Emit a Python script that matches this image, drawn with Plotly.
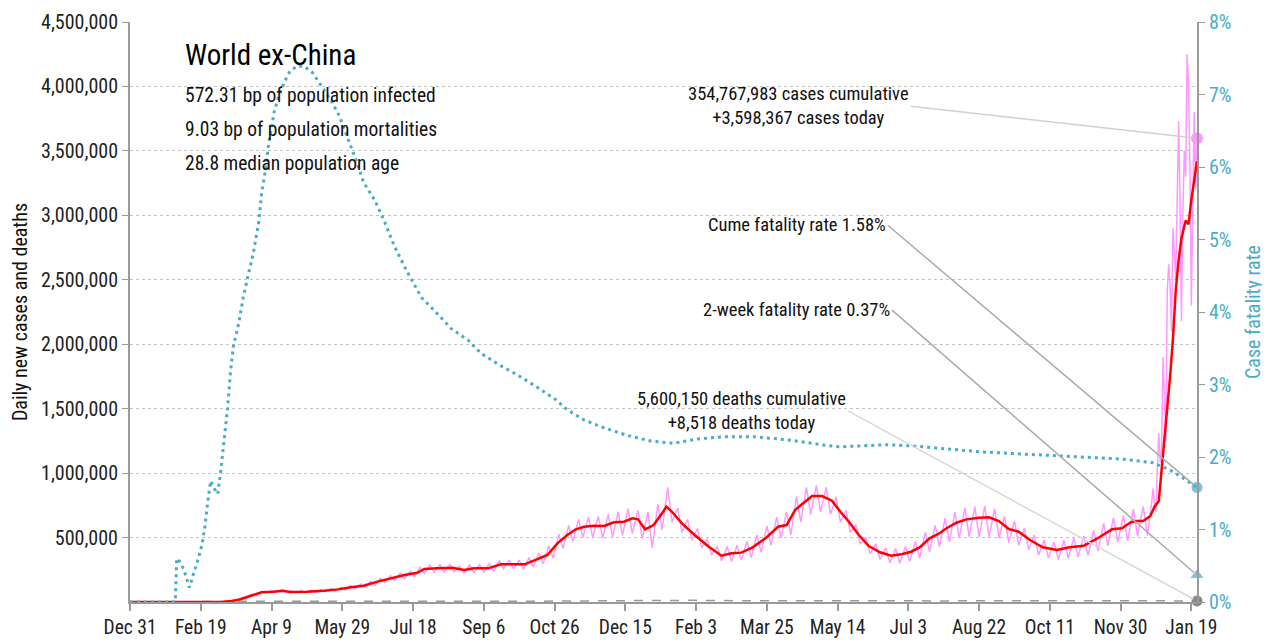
import pandas as pd
import plotly.graph_objects as go

START = pd.Timestamp("2019-12-31")
LAST_DAY = 754

# x-axis tick labels (every 50 days from Dec 31, 2019)
tick_labels = ["Dec 31", "Feb 19", "Apr 9", "May 29", "Jul 18", "Sep 6", "Oct 26", "Dec 15",
               "Feb 3", "Mar 25", "May 14", "Jul 3", "Aug 22", "Oct 11", "Nov 30", "Jan 19"]
tick_step_days = 50

# 7-day average of daily new cases (thousands), day offsets from Dec 31, 2019
avg_days = [0, 60, 66, 72, 78, 87, 93, 101, 108, 113, 125, 137, 147, 156, 165, 175, 184, 194, 203, 208,
            217, 228, 236, 243, 253, 262, 279, 288, 295, 302, 309, 315, 321, 328, 335, 342, 349, 355, 359, 364,
            370, 376, 379, 383, 390, 399, 409, 418, 425, 432, 440, 449, 458, 464, 470, 475, 482, 489, 496, 502,
            508, 515, 522, 530, 538, 546, 552, 558, 565, 572, 577, 584, 591, 600, 607, 614, 621, 628, 636, 645,
            655, 664, 674, 683, 694, 701, 707, 711, 716, 721, 724, 727, 729, 731, 733, 735, 737, 739, 741, 743,
            746, 748, 750, 752, 754]
avg_k = [0, 0.5, 1.5, 8, 21, 54, 75, 80, 88, 78, 80, 88, 98, 114, 126, 158, 184, 209, 227, 256,
         261, 266, 248, 261, 261, 292, 292, 331, 365, 455, 520, 564, 584, 592, 590, 618, 623, 649, 641, 564,
         597, 688, 740, 700, 610, 520, 429, 359, 378, 383, 424, 494, 584, 597, 714, 760, 822, 822, 786, 700,
         623, 520, 434, 386, 359, 372, 390, 424, 494, 533, 572, 615, 641, 654, 657, 628, 566, 545, 481, 424,
         403, 424, 437, 489, 564, 572, 618, 628, 628, 667, 739, 784, 1020, 1310, 1510, 1750, 2040, 2420, 2650, 2820,
         2960, 2930, 3120, 3260, 3420]

# daily new cases (thousands): weekly high (Thu) and low (Sun) readings, weeks 0..102
pink_hi_k = [0, 0, 0, 0, 0, 0, 0.3, 0.6, 1.2, 2.5,
             12, 30, 60, 82, 88, 95, 85, 88, 92, 96,
             104, 114, 126, 140, 160, 185, 205, 225, 240, 270,
             285, 290, 292, 278, 285, 290, 298, 322, 325, 325,
             345, 378, 435, 525, 595, 640, 660, 665, 680, 700,
             725, 710, 700, 760, 890, 730, 640, 570, 490, 430,
             430, 440, 470, 520, 590, 660, 700, 820, 890, 905,
             890, 815, 710, 600, 500, 450, 420, 415, 430, 470,
             540, 595, 650, 700, 730, 740, 745, 725, 665, 630,
             575, 520, 480, 465, 480, 495, 510, 555, 610, 655,
             670, 720, 740]
pink_lo_k = [0, 0, 0, 0, 0, 0, 0.1, 0.4, 0.8, 1.8,
             8, 22, 48, 70, 74, 78, 72, 73, 76, 80,
             85, 93, 103, 112, 128, 150, 165, 180, 195, 220,
             230, 232, 235, 222, 228, 230, 235, 258, 258, 255,
             272, 298, 340, 415, 470, 500, 500, 495, 505, 515,
             530, 490, 420, 560, 620, 540, 480, 420, 365, 320,
             315, 325, 345, 385, 440, 495, 520, 620, 680, 700,
             680, 620, 540, 450, 375, 330, 305, 300, 315, 340,
             390, 430, 465, 495, 505, 505, 505, 495, 460, 440,
             405, 365, 340, 330, 340, 350, 360, 395, 435, 465,
             475, 510, 515]
# daily new cases during the Omicron surge (thousands), from day 722
surge_start_day = 722
surge_k = [780, 880, 740, 700, 1050, 1310, 1080, 1200, 1900, 1500, 1250, 2420, 2620, 2450, 2100,
           2900, 2700, 2500, 3120, 3730, 3100, 2180, 3000, 3500, 3300, 4250, 4020, 3400, 2300,
           3000, 3800, 3200, 3598.367]

# cumulative case fatality rate (%)
cfr_days = [0, 32, 33, 35, 38, 42, 45, 47, 51, 53, 55, 57, 60, 62, 64, 67, 69, 71, 73, 77,
            80, 84, 87, 91, 93, 96, 98, 102, 105, 109, 113, 118, 123, 129, 135, 142, 148, 154, 161, 165,
            173, 180, 187, 196, 206, 218, 227, 239, 248, 261, 274, 287, 301, 309, 321, 334, 351, 368, 384, 401,
            421, 441, 468, 488, 501, 535, 555, 602, 635, 669, 702, 723, 735, 745, 754]
cfr_pct = [0, 0, 0.60, 0.56, 0.45, 0.20, 0.40, 0.51, 0.80, 1.05, 1.39, 1.67, 1.55, 1.49, 1.79, 2.29, 2.68, 3.17, 3.52, 3.86,
           4.20, 4.55, 4.80, 5.24, 5.64, 5.99, 6.33, 6.77, 6.97, 7.17, 7.32, 7.39, 7.39, 7.30, 7.12, 6.92, 6.70, 6.39, 6.03, 5.79,
           5.54, 5.24, 4.90, 4.55, 4.20, 3.96, 3.77, 3.61, 3.43, 3.27, 3.13, 2.97, 2.79, 2.65, 2.51, 2.41, 2.30, 2.22, 2.19, 2.25,
           2.28, 2.28, 2.23, 2.17, 2.14, 2.17, 2.15, 2.07, 2.04, 2.00, 1.97, 1.92, 1.82, 1.70, 1.58]

# daily deaths (thousands)
death_days = [0, 60, 75, 90, 105, 130, 160, 190, 220, 250, 280, 310, 340, 370, 400, 430, 460, 490, 520, 550,
              580, 610, 640, 670, 700, 730, 754]
death_k = [0, 0.2, 1.5, 5.5, 6.5, 5, 4.5, 5, 6, 5.5, 5.5, 7, 10, 12, 13, 10, 9, 12, 11, 8.5,
           8.5, 10, 8.5, 7, 7, 6.5, 8.518]

# latest values
cases_today = 3598367
cases_cum = 354767983
deaths_today = 8518
deaths_cum = 5600150
cume_cfr = 1.58
twoweek_cfr = 0.37
stats_lines = ["572.31 bp of population infected", "9.03 bp of population mortalities", "28.8 median population age"]

FONT = "Liberation Sans Narrow, Arial Narrow, Roboto Condensed, DejaVu Sans Condensed, sans-serif"
PINK = "#ff99ff"
RED = "#ff0000"
TEAL = "#4bacc6"
AXIS = "#9a9a9a"


def d(day):
    return START + pd.Timedelta(days=day)


# build daily series
pink_pts = []
for w, (hi, lo) in enumerate(zip(pink_hi_k, pink_lo_k)):
    pink_pts.append((7 * w + 2, hi))
    pink_pts.append((7 * w + 5, lo))
for i, v in enumerate(surge_k):
    pink_pts.append((surge_start_day + i, v))
pink_pts.sort()
pink_x = [d(p[0]) for p in pink_pts]
pink_y = [p[1] * 1000 for p in pink_pts]

last = d(LAST_DAY)

fig = go.Figure()
fig.add_trace(go.Scatter(x=pink_x, y=pink_y, mode="lines", line=dict(color=PINK, width=1.5),
                         hoverinfo="skip"))
fig.add_trace(go.Scatter(x=[d(x) for x in death_days], y=[v * 1000 for v in death_k], mode="lines",
                         line=dict(color="#999999", width=1.5, dash="dash"), hoverinfo="skip"))
fig.add_trace(go.Scatter(x=[d(x) for x in avg_days], y=[v * 1000 for v in avg_k], mode="lines",
                         line=dict(color=RED, width=2.5), hoverinfo="skip"))
fig.add_trace(go.Scatter(x=[d(x) for x in cfr_days], y=[v / 100 for v in cfr_pct], yaxis="y2", mode="lines",
                         line=dict(color=TEAL, width=3, dash="3px,4px"), hoverinfo="skip"))
# end markers
fig.add_trace(go.Scatter(x=[last], y=[cases_today], mode="markers", cliponaxis=False,
                         marker=dict(color=PINK, size=12, symbol="circle"), hoverinfo="skip"))
fig.add_trace(go.Scatter(x=[last], y=[deaths_today], mode="markers", cliponaxis=False,
                         marker=dict(color="#888888", size=11, symbol="circle"), hoverinfo="skip"))
fig.add_trace(go.Scatter(x=[last, last], y=[cume_cfr / 100, twoweek_cfr / 100], yaxis="y2", mode="markers",
                         cliponaxis=False,
                         marker=dict(color=TEAL, size=[12, 13], symbol=["circle", "triangle-up"]),
                         hoverinfo="skip"))

tick_vals = [d(i * tick_step_days) for i in range(len(tick_labels))]

ann = []
ann.append(dict(xref="paper", yref="paper", x=0.0497, y=0.943, xanchor="left", yanchor="middle",
                text="World ex-China", showarrow=False, font=dict(size=29, color="#000")))
for i, s in enumerate(stats_lines):
    ann.append(dict(xref="paper", yref="paper", x=0.0497, y=0.874 - i * 0.0586, xanchor="left",
                    yanchor="middle", text=s, showarrow=False, font=dict(size=19.5, color="#111")))

ann.append(dict(x=last, y=cases_today, xref="x", yref="y", ax=-286, ay=-32, xanchor="right", yanchor="middle",
                text=f"{cases_cum:,} cases cumulative<br>+{cases_today:,} cases today", align="center",
                showarrow=True, arrowhead=0, arrowwidth=1.5, arrowcolor="#d0d0d0", standoff=4,
                font=dict(size=18.5, color="#111")))
ann.append(dict(x=last, y=cume_cfr / 100, xref="x", yref="y2", ax=-309, ay=-262, xanchor="right",
                yanchor="middle", text=f"Cume fatality rate {cume_cfr:.2f}%", showarrow=True, arrowhead=0,
                arrowwidth=1.5, arrowcolor="#aaaaaa", standoff=4, font=dict(size=18.5, color="#111")))
ann.append(dict(x=last, y=twoweek_cfr / 100, xref="x", yref="y2", ax=-305, ay=-265, xanchor="right",
                yanchor="middle", text=f"2-week fatality rate {twoweek_cfr:.2f}%", showarrow=True, arrowhead=0,
                arrowwidth=1.5, arrowcolor="#aaaaaa", standoff=4, font=dict(size=18.5, color="#111")))
ann.append(dict(x=last, y=deaths_today, xref="x", yref="y", ax=-349, ay=-190, xanchor="right", yanchor="middle",
                text=f"{deaths_cum:,} deaths cumulative<br>+{deaths_today:,} deaths today", align="center",
                showarrow=True, arrowhead=0, arrowwidth=1.5, arrowcolor="#d8d8d8", standoff=4,
                font=dict(size=18.5, color="#111")))

# the page body adds an 8px offset; margins compensate so the plot area lands where the reference has it
fig.update_layout(
    width=1270, height=642,
    margin=dict(l=122, r=81, t=14, b=48, autoexpand=False),
    paper_bgcolor="white", plot_bgcolor="white",
    showlegend=False, hovermode=False,
    font=dict(family=FONT, size=20, color="#222"),
    annotations=ann,
    xaxis=dict(type="date", range=[START, last], tickvals=tick_vals, ticktext=tick_labels, automargin=False,
               ticks="outside", ticklen=7, tickwidth=1.5, tickcolor=AXIS, showline=True, linecolor=AXIS,
               linewidth=2, showgrid=False, zeroline=False, tickfont=dict(size=19.5, color="#222")),
    yaxis=dict(range=[0, 4500000], tickvals=[500000 * i for i in range(1, 10)], tickformat=",",
               automargin=False,
               ticks="outside", ticklen=6, tickcolor=AXIS, showline=True, linecolor=AXIS, linewidth=2,
               showgrid=True, gridcolor="#c4c4c4", griddash="dot", gridwidth=1, zeroline=False,
               tickfont=dict(size=20, color="#222"),
               title=dict(text="Daily new cases and deaths", font=dict(size=20, color="#111"))),
    yaxis2=dict(overlaying="y", side="right", range=[0, 0.08], dtick=0.01, tickformat=".0%",
                automargin=False,
                ticks="outside", ticklen=6, tickcolor=AXIS, showline=True, linecolor=AXIS, linewidth=2,
                showgrid=False, zeroline=False, tickfont=dict(size=20, color=TEAL),
                title=dict(text="Case fatality rate", font=dict(size=20, color=TEAL))),
)

fig.write_html("out.html")
